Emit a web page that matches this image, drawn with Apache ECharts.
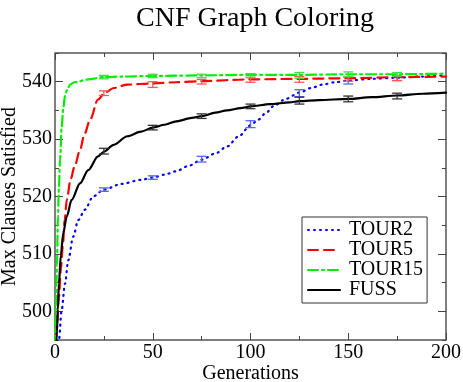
<!DOCTYPE html>
<html>
<head>
<meta charset="utf-8">
<script src="https://cdn.jsdelivr.net/npm/echarts@6/dist/echarts.min.js"></script>
<style>
  html, body { margin: 0; padding: 0; background: #fff; }
  #chart { width: 463px; height: 382px; }
</style>
</head>
<body>
<div id="chart"></div>
<script>
// series curves (generation, max clauses satisfied)
const fussX = [0,1,1.4,2,3,4.2,6,8.5,12.8,17,22,25,30,37,44,50,56,62,70,75,82,88,95,100,110,120,125,135,150,162,175,188,200];
const fussY = [488,496.5,500.2,504.8,509.8,513.6,516.5,519.4,522.3,524.6,527,527.8,529,530.5,531.3,532,532.5,533.1,533.7,534,534.6,535,535.4,535.7,536.1,536.4,536.6,536.8,537,537.3,537.6,537.9,538.1];

const tour2X = [0,2,3.4,5.1,6.8,9.3,11.9,15.3,19.5,25,34,44,50,56,62,68,75,82,88,94,100,104,108,112,118,125,131,137,143,150,162,175,188,200];
const tour2Y = [485,495,500.2,504.8,508.9,513,515.9,517.7,520,521.2,522.2,522.9,523.3,523.8,524.4,525.3,526.4,527.5,528.7,530.5,532.4,533.4,534.6,535.8,537,538.1,538.9,539.5,539.9,540.2,540.5,540.7,540.9,541.1];

const tour5X = [0,1,2,3,4,5,6,8,10,12.8,15,18,22,25.5,30,37,50,62,75,100,125,150,175,200];
const tour5Y = [490,497,502.5,507.3,511.5,516,519.4,523,525.2,528.1,530.8,533.4,536.9,538.1,538.9,539.5,539.7,539.9,540.1,540.4,540.5,540.6,540.8,540.9];

const tour15X = [0,0.5,1,1.5,2,2.6,3.4,4.2,5.1,6.4,7.7,10,17,25,35,50,75,100,125,150,175,200];
const tour15Y = [494,501,508,516.5,521.5,526.4,532,535.3,537.5,538.8,539.5,539.9,540.4,540.8,540.9,541,541.1,541.2,541.2,541.3,541.3,541.4];

// error bars
const errX = [25,50,75,100,125,150,175];
const fussMean = [527.9,532,534,535.7,536.7,537,537.5];
const fussErr = [0.5,0.4,0.4,0.4,0.6,0.5,0.5];
const tour2Mean = [521.2,523.3,526.5,532.6,538,540.2,540.6];
const tour2Err = [0.3,0.3,0.5,0.6,0.6,0.6,0.4];
const tour5Mean = [538,539.5,540,540.3,540.4,540.5,540.6];
const tour5Err = [0.4,0.5,0.4,0.4,0.5,0.4,0.4];
const tour15Mean = [540.8,541,541,541.1,541.1,541.3,541.3];
const tour15Err = [0.3,0.3,0.3,0.3,0.5,0.4,0.3];

// tick labels
const yLabels = [500,510,520,530,540];
const xLabels = [0,50,100,150,200];
const yMinor = [495,500,505,510,515,520,525,530,535,540,545];

const FONT = 'Liberation Serif';

function pairs(xs, ys) {
    return xs.map((x, i) => [x, ys[i]]);
}

function errData(mean, err) {
    return errX.map((x, i) => [x, mean[i] - err[i], mean[i] + err[i]]);
}

function renderErr(params, api) {
    let lo = api.coord([api.value(0), api.value(1)]);
    let hi = api.coord([api.value(0), api.value(2)]);
    let w = 5;
    let style = { stroke: api.visual('color'), lineWidth: 1.3 };
    return {
        type: 'group',
        children: [
            { type: 'line', shape: { x1: lo[0], y1: lo[1], x2: hi[0], y2: hi[1] }, style: style },
            { type: 'line', shape: { x1: lo[0] - w, y1: lo[1], x2: lo[0] + w, y2: lo[1] }, style: style },
            { type: 'line', shape: { x1: hi[0] - w, y1: hi[1], x2: hi[0] + w, y2: hi[1] }, style: style }
        ]
    };
}

function lineSeries(name, data, color, type) {
    return {
        name: name,
        type: 'line',
        data: data,
        showSymbol: false,
        symbol: 'none',
        smooth: 0.3,
        smoothMonotone: 'x',
        clip: true,
        color: color,
        lineStyle: { color: color, width: 2.2, type: type, cap: 'round' },
        z: 3
    };
}

function errSeries(name, data, color) {
    return {
        name: name + ' err',
        type: 'custom',
        data: data,
        color: color,
        renderItem: renderErr,
        z: 4
    };
}

const chart = echarts.init(document.getElementById('chart'));

const tickStyle = { color: '#444', width: 1 };

// unlabeled tick-only axes (minor ticks, right side)
function plainY(position, len, values) {
    return {
        type: 'value',
        position: position,
        offset: 0,
        min: 495, max: 545,
        axisLine: { show: false },
        axisTick: { inside: true, length: len, lineStyle: tickStyle, customValues: values },
        axisLabel: { show: false, customValues: values },
        splitLine: { show: false }
    };
}

chart.setOption({
    animation: false,
    backgroundColor: '#fff',
    title: {
        text: 'CNF Graph Coloring',
        left: 250,
        textAlign: 'center',
        top: 0,
        textStyle: { fontFamily: FONT, fontSize: 28, fontWeight: 'normal', color: '#000' }
    },
    grid: {
        left: 55, right: 17, top: 53, bottom: 42,
        outerBoundsMode: 'none',
        containLabel: false,
        show: true, borderColor: '#555', borderWidth: 1.5
    },
    legend: {
        data: ['TOUR2', 'TOUR5', 'TOUR15', 'FUSS'],
        orient: 'vertical',
        left: 302,
        top: 217,
        itemWidth: 32,
        itemHeight: 16,
        itemGap: 0,
        padding: [3, 4, 3, 5],
        borderColor: '#333',
        borderWidth: 1,
        borderRadius: 0,
        itemStyle: { opacity: 0, color: 'transparent', borderWidth: 0 },
        textStyle: { fontFamily: FONT, fontSize: 20, color: '#000', lineHeight: 16, padding: [0, 0, 0, 4] }
    },
    xAxis: [{
        type: 'value',
        min: 0, max: 200, interval: 50,
        name: 'Generations',
        nameLocation: 'middle',
        nameGap: 24,
        nameMoveOverlap: false,
        nameTextStyle: { fontFamily: FONT, fontSize: 20, color: '#000' },
        axisLine: { show: false },
        axisTick: { inside: true, length: 7, lineStyle: tickStyle },
        minorTick: { show: true, splitNumber: 2, length: 4, lineStyle: tickStyle },
        axisLabel: { fontFamily: FONT, fontSize: 20, color: '#000', margin: 3, customValues: xLabels },
        splitLine: { show: false }
    }, {
        type: 'value',
        position: 'top',
        min: 0, max: 200, interval: 50,
        axisLine: { show: false },
        axisTick: { inside: true, length: 7, lineStyle: tickStyle },
        minorTick: { show: true, splitNumber: 2, length: 4, lineStyle: tickStyle },
        axisLabel: { show: false },
        splitLine: { show: false }
    }],
    yAxis: [{
        type: 'value',
        min: 495, max: 545,
        name: 'Max Clauses Satisfied',
        nameLocation: 'middle',
        nameGap: 35,
        nameMoveOverlap: false,
        nameTextStyle: { fontFamily: FONT, fontSize: 20, color: '#000' },
        axisLine: { show: false },
        axisTick: { inside: true, length: 8, lineStyle: tickStyle, customValues: yLabels },
        axisLabel: { fontFamily: FONT, fontSize: 20, color: '#000', margin: 3, customValues: yLabels },
        splitLine: { show: false }
    },
        plainY('left', 4, yMinor),
        plainY('right', 8, yLabels),
        plainY('right', 4, yMinor)
    ],
    series: [
        lineSeries('TOUR2', pairs(tour2X, tour2Y), '#0000ff', [1, 5]),
        lineSeries('TOUR5', pairs(tour5X, tour5Y), '#ff0000', [10, 6]),
        lineSeries('TOUR15', pairs(tour15X, tour15Y), '#00ee00', [10, 4, 2, 4]),
        lineSeries('FUSS', pairs(fussX, fussY), '#000000', 'solid'),
        errSeries('TOUR2', errData(tour2Mean, tour2Err), '#5566ff'),
        errSeries('TOUR5', errData(tour5Mean, tour5Err), '#ff5555'),
        errSeries('TOUR15', errData(tour15Mean, tour15Err), '#44dd44'),
        errSeries('FUSS', errData(fussMean, fussErr), '#333333')
    ]
});
</script>
</body>
</html>
